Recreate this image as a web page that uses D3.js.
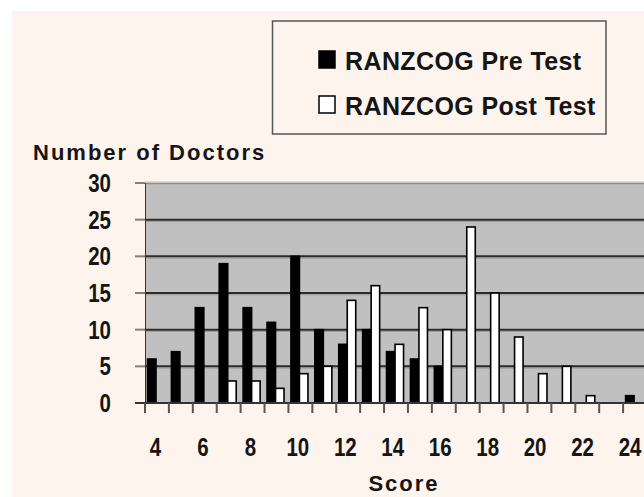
<!DOCTYPE html>
<html>
<head>
<meta charset="utf-8">
<script src="https://cdn.jsdelivr.net/npm/d3@7"></script>
<style>
  body { margin: 0; background: #fff; }
  svg { display: block; }
  .tick-label { font-family: "Liberation Sans", Arial, sans-serif; font-weight: bold; font-size: 25px; fill: #151515; }
  .title { font-family: "Liberation Sans", Arial, sans-serif; font-weight: bold; font-size: 22px; letter-spacing: 2px; fill: #151515; }
  .legend-text { font-family: "Liberation Sans", Arial, sans-serif; font-weight: bold; font-size: 25px; letter-spacing: 0.4px; fill: #151515; }
</style>
</head>
<body>
<div id="chart"></div>
<script>
// scores on the x axis
var categories = [4, 5, 6, 7, 8, 9, 10, 11, 12, 13, 14, 15, 16, 17, 18, 19, 20, 21, 22, 23, 24];
// number of doctors per score
var preTest  = [6, 7, 13, 19, 13, 11, 20, 10, 8, 10, 7, 6, 5, 0, 0, 0, 0, 0, 0, 0, 1];
var postTest = [0, 0, 0, 3, 3, 2, 4, 5, 14, 16, 8, 13, 10, 24, 15, 9, 4, 5, 1, 0, 0];
var seriesNames = ["RANZCOG Pre Test", "RANZCOG Post Test"];
var yTicks = [0, 5, 10, 15, 20, 25, 30];

var w = 644, h = 497,
    squeeze = 0.82;   // narrow look of the digit labels

var rows = categories.map(function(c, i) {
  return {score: c, values: [{key: "pre", v: preTest[i]}, {key: "post", v: postTest[i]}]};
});

var svg = d3.select("#chart").append("svg")
    .attr("width", w)
    .attr("height", h);

// cream panel inside a thin white margin
svg.append("rect")
    .attr("x", 12).attr("y", 11)
    .attr("width", w - 12).attr("height", h - 11)
    .attr("fill", "#fdf4ee");

var x = d3.scaleBand()
    .domain(categories)
    .range([145, 647]);

var x1 = d3.scaleBand()
    .domain(["pre", "post"])
    .range([2.5, 19.5]);

var y = d3.scaleLinear()
    .domain([0, 30])
    .range([403, 183]);

// plot area
svg.append("rect")
    .attr("x", 145).attr("y", y(30))
    .attr("width", 647 - 145).attr("height", y(0) - y(30))
    .attr("fill", "#c0c0c0");

svg.append("line")
    .attr("x1", 145).attr("x2", 647)
    .attr("y1", y(30) - 1).attr("y2", y(30) - 1)
    .attr("stroke", "#cbc3bb").attr("stroke-width", 1);
svg.append("line")
    .attr("x1", 145).attr("x2", 647)
    .attr("y1", y(30) + 0.5).attr("y2", y(30) + 0.5)
    .attr("stroke", "#8c8c8c").attr("stroke-width", 1.5);

// gridlines with a soft shadow
var grid = yTicks.filter(function(d) { return d > 0 && d < 30; });
svg.selectAll("line.shadow")
    .data(grid)
  .enter().append("line")
    .attr("class", "shadow")
    .attr("x1", 145).attr("x2", 647)
    .attr("y1", function(d) { return y(d) + 1.8; })
    .attr("y2", function(d) { return y(d) + 1.8; })
    .attr("stroke", "#9a9a9a").attr("stroke-width", 1);
svg.selectAll("line.grid")
    .data(grid)
  .enter().append("line")
    .attr("class", "grid")
    .attr("x1", 145).attr("x2", 647)
    .attr("y1", function(d) { return y(d); })
    .attr("y2", function(d) { return y(d); })
    .attr("stroke", "#2b2b2b").attr("stroke-width", 2);

// y tick stubs left of the plot
svg.selectAll("line.ytick")
    .data(yTicks)
  .enter().append("line")
    .attr("class", "ytick")
    .attr("x1", 135).attr("x2", 145)
    .attr("y1", function(d) { return y(d); })
    .attr("y2", function(d) { return y(d); })
    .attr("stroke", "#808080").attr("stroke-width", 2);

svg.append("line")
    .attr("x1", 145.5).attr("x2", 145.5)
    .attr("y1", y(30)).attr("y2", y(0))
    .attr("stroke", "#333").attr("stroke-width", 1);

// bars
var groups = svg.selectAll("g.score")
    .data(rows)
  .enter().append("g")
    .attr("class", "score")
    .attr("transform", function(d) { return "translate(" + x(d.score) + ",0)"; });

groups.selectAll("rect")
    .data(function(d) { return d.values.filter(function(v) { return v.v > 0; }); })
  .enter().append("rect")
    .attr("x", function(d) { return x1(d.key); })
    .attr("width", x1.bandwidth())
    .attr("y", function(d) { return y(d.v); })
    .attr("height", function(d) { return y(0) - y(d.v); })
    .attr("fill", function(d) { return d.key == "pre" ? "#000" : "#fff"; })
    .attr("stroke", "#000")
    .attr("stroke-width", 1.6);

// x axis line and ticks at band edges
svg.append("line")
    .attr("x1", 135).attr("x2", 647)
    .attr("y1", y(0)).attr("y2", y(0))
    .attr("stroke", "#333").attr("stroke-width", 2);

svg.selectAll("line.xtick")
    .data(categories)
  .enter().append("line")
    .attr("class", "xtick")
    .attr("x1", function(d) { return x(d); })
    .attr("x2", function(d) { return x(d); })
    .attr("y1", y(0)).attr("y2", y(0) + 10)
    .attr("stroke", "#555").attr("stroke-width", 2);

// tick labels
svg.selectAll("text.ylabel")
    .data(yTicks)
  .enter().append("text")
    .attr("class", "tick-label ylabel")
    .attr("transform", function(d) {
      return "translate(111," + (y(d) + 9) + ")scale(" + squeeze + ",1)";
    })
    .attr("text-anchor", "end")
    .text(function(d) { return d; });

svg.selectAll("text.xlabel")
    .data(categories.filter(function(d) { return d % 2 == 0; }))
  .enter().append("text")
    .attr("class", "tick-label xlabel")
    .attr("transform", function(d, i) {
      return "translate(" + (x(d) + x.bandwidth() / 2 - 1.5 - i * 0.35) + ",456)scale(" + squeeze + ",1)";
    })
    .attr("text-anchor", "middle")
    .text(function(d) { return d; });

// axis titles
svg.append("text")
    .attr("class", "title")
    .attr("x", 33).attr("y", 160)
    .text("Number of Doctors");

svg.append("text")
    .attr("class", "title")
    .attr("x", 404).attr("y", 491)
    .attr("text-anchor", "middle")
    .text("Score");

// legend
var legend = svg.append("g");
legend.append("rect")
    .attr("x", 272.5).attr("y", 21)
    .attr("width", 333.5).attr("height", 113)
    .attr("fill", "none")
    .attr("stroke", "#555").attr("stroke-width", 1.5);

var items = legend.selectAll("g.item")
    .data(seriesNames)
  .enter().append("g")
    .attr("class", "item")
    .attr("transform", function(d, i) { return "translate(0," + (i * 45) + ")"; });

items.append("rect")
    .attr("x", 319).attr("y", 51)
    .attr("width", 16).attr("height", 17)
    .attr("fill", function(d, i) { return i == 0 ? "#000" : "#fff"; })
    .attr("stroke", "#000").attr("stroke-width", 1.5);

items.append("text")
    .attr("class", "legend-text")
    .attr("x", 345).attr("y", 70)
    .text(function(d) { return d; });
</script>
</body>
</html>
